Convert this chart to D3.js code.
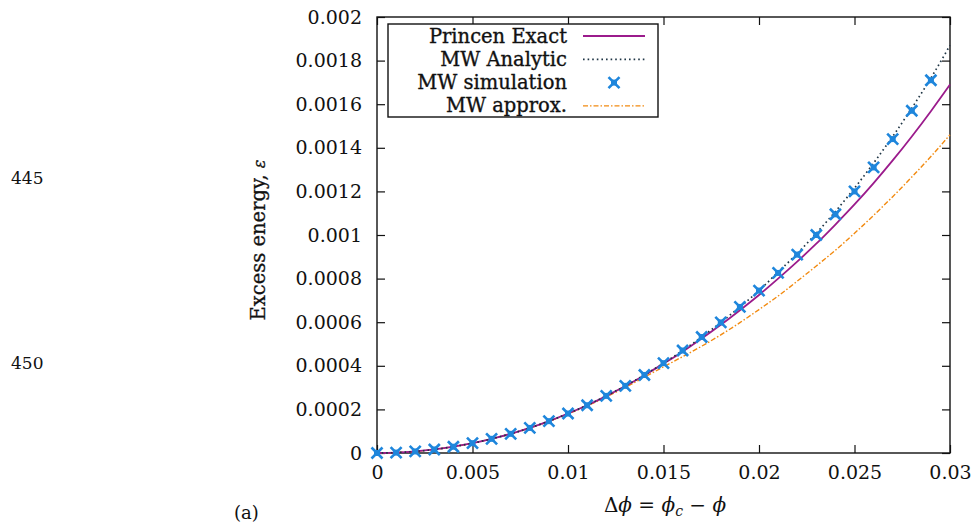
<!DOCTYPE html>
<html>
<head>
<meta charset="utf-8">
<script src="https://cdn.jsdelivr.net/npm/d3@7"></script>
<style>
  body { margin: 0; background: #fff; }
  svg text { font-family: "DejaVu Serif", "Liberation Serif", serif; fill: #111; }
</style>
</head>
<body>
<svg id="chart"></svg>
<script>
// x values (delta phi), one every 0.001
const dphi = [0, 0.001, 0.002, 0.003, 0.004, 0.005, 0.006, 0.007, 0.008, 0.009,
  0.010, 0.011, 0.012, 0.013, 0.014, 0.015, 0.016, 0.017, 0.018, 0.019,
  0.020, 0.021, 0.022, 0.023, 0.024, 0.025, 0.026, 0.027, 0.028, 0.029, 0.030];

// series
const princenExact = [0, 0.0000018, 0.0000072, 0.0000162, 0.0000288, 0.000045, 0.000065, 0.000088, 0.000115, 0.000146,
  0.000181, 0.000219, 0.000261, 0.000307, 0.000357, 0.000410, 0.000465, 0.000525, 0.000588, 0.000655,
  0.000725, 0.000800, 0.000878, 0.000960, 0.001048, 0.001140, 0.001238, 0.001342, 0.001452, 0.001568, 0.001690];
const mwAnalytic = [0, 0.0000018, 0.0000072, 0.0000162, 0.0000288, 0.000045, 0.000065, 0.000088, 0.000115, 0.000146,
  0.000181, 0.000219, 0.000262, 0.000308, 0.000358, 0.000412, 0.000470, 0.000532, 0.000599, 0.000670,
  0.000745, 0.000830, 0.000915, 0.001008, 0.001108, 0.001215, 0.001330, 0.001452, 0.001582, 0.001720, 0.001870];
const mwSimulation = [0, 0.0000018, 0.0000072, 0.0000162, 0.0000288, 0.000045, 0.000065, 0.000088, 0.000115, 0.000146,
  0.000181, 0.000219, 0.000262, 0.000308, 0.000358, 0.000412, 0.000470, 0.000532, 0.000599, 0.000670,
  0.000745, 0.000826, 0.000910, 0.001000, 0.001095, 0.001200, 0.001310, 0.001440, 0.001570, 0.001710];
const mwApprox = [0, 0.0000018, 0.0000072, 0.0000162, 0.0000288, 0.000045, 0.000065, 0.000088, 0.000115, 0.000145,
  0.000179, 0.000216, 0.000257, 0.000301, 0.000348, 0.000395, 0.000442, 0.000490, 0.000542, 0.000598,
  0.000658, 0.000720, 0.000788, 0.000858, 0.000930, 0.001008, 0.001090, 0.001176, 0.001266, 0.001360, 0.001460];

const xTicks = [0, 0.005, 0.01, 0.015, 0.02, 0.025, 0.03];
const yTicks = [0, 0.0002, 0.0004, 0.0006, 0.0008, 0.001, 0.0012, 0.0014, 0.0016, 0.0018, 0.002];

const width = 976, height = 525;
const plotLeft = 377, plotRight = 950, plotTop = 17, plotBottom = 453;

const svg = d3.select("#chart").attr("width", width).attr("height", height);

const x = d3.scaleLinear().domain([0, 0.03]).range([plotLeft, plotRight]);
const y = d3.scaleLinear().domain([0, 0.002]).range([plotBottom, plotTop]);

// inward ticks on all four sides, gnuplot style
const tickLen = 8;
svg.append("g").attr("transform", `translate(0,${plotBottom})`)
  .call(d3.axisBottom(x).tickValues(xTicks).tickSize(-tickLen).tickPadding(13).tickFormat(d => d3.format("~g")(d)));
svg.append("g").attr("transform", `translate(0,${plotTop})`)
  .call(d3.axisTop(x).tickValues(xTicks).tickSize(-tickLen).tickFormat(""));
svg.append("g").attr("transform", `translate(${plotLeft},0)`)
  .call(d3.axisLeft(y).tickValues(yTicks).tickSize(-tickLen).tickPadding(15).tickFormat(d => d === 0 ? "0" : d3.format("~g")(d)));
svg.append("g").attr("transform", `translate(${plotRight},0)`)
  .call(d3.axisRight(y).tickValues(yTicks).tickSize(-tickLen).tickFormat(""));

svg.selectAll(".domain").remove();
svg.selectAll(".tick line").attr("stroke", "#111").attr("stroke-width", 1.2);
svg.selectAll(".tick text").attr("font-size", "19px").attr("font-family", "DejaVu Serif").attr("fill", "#111");

// frame
svg.append("rect")
  .attr("x", plotLeft).attr("y", plotTop)
  .attr("width", plotRight - plotLeft).attr("height", plotBottom - plotTop)
  .attr("fill", "none").attr("stroke", "#111").attr("stroke-width", 1.4);

const line = d3.line().curve(d3.curveMonotoneX).x(d => x(d[0])).y(d => y(d[1]));
const plot = svg.append("g");

plot.append("path")
  .datum(dphi.map((d, i) => [d, mwApprox[i]]))
  .attr("d", line).attr("fill", "none")
  .attr("stroke", "#f28a10").attr("stroke-width", 1.4)
  .attr("stroke-dasharray", "5,2,1.5,2");

plot.append("path")
  .datum(dphi.map((d, i) => [d, princenExact[i]]))
  .attr("d", line).attr("fill", "none")
  .attr("stroke", "#9b1b8c").attr("stroke-width", 1.8);

plot.append("path")
  .datum(dphi.map((d, i) => [d, mwAnalytic[i]]))
  .attr("d", line).attr("fill", "none")
  .attr("stroke", "#1f3545").attr("stroke-width", 1.7)
  .attr("stroke-dasharray", "1.6,3");

// simulation markers: an x with a filled centre
function marker(g, cx, cy) {
  const s = 5.5;
  g.append("path")
    .attr("d", `M${cx - s},${cy - s}L${cx + s},${cy + s}M${cx - s},${cy + s}L${cx + s},${cy - s}`)
    .attr("stroke", "#1e86dc").attr("stroke-width", 2.6);
  g.append("rect")
    .attr("x", cx - 3).attr("y", cy - 3).attr("width", 6).attr("height", 6)
    .attr("fill", "#1e86dc");
}
const simG = plot.append("g");
mwSimulation.forEach((v, i) => marker(simG, x(dphi[i]), y(v)));

// legend
const legend = svg.append("g");
legend.append("rect")
  .attr("x", 388).attr("y", 24).attr("width", 270).attr("height", 93)
  .attr("fill", "#fff").attr("stroke", "#111").attr("stroke-width", 1.4);

const legendNames = ["Princen Exact", "MW Analytic", "MW simulation", "MW approx."];
legendNames.forEach((name, i) => {
  const cy = 36 + i * 23.3;
  legend.append("text")
    .attr("x", 567).attr("y", cy + 6.5)
    .attr("text-anchor", "end").attr("font-size", "19.5px")
    .attr("stroke", "#111").attr("stroke-width", 0.35)
    .text(name);
  if (i === 0) {
    legend.append("line").attr("x1", 583).attr("x2", 645).attr("y1", cy).attr("y2", cy)
      .attr("stroke", "#9b1b8c").attr("stroke-width", 1.8);
  } else if (i === 1) {
    legend.append("line").attr("x1", 583).attr("x2", 645).attr("y1", cy).attr("y2", cy)
      .attr("stroke", "#1f3545").attr("stroke-width", 1.7).attr("stroke-dasharray", "1.6,3");
  } else if (i === 2) {
    marker(legend, 614, cy);
  } else {
    legend.append("line").attr("x1", 583).attr("x2", 645).attr("y1", cy).attr("y2", cy)
      .attr("stroke", "#f28a10").attr("stroke-width", 1.4).attr("stroke-dasharray", "5,2,1.5,2");
  }
});

// axis titles
svg.append("text")
  .attr("transform", "translate(265,240) rotate(-90)")
  .attr("text-anchor", "middle").attr("font-size", "19.5px")
  .attr("stroke", "#111").attr("stroke-width", 0.3)
  .html('Excess energy, <tspan font-style="italic" font-size="16px">ε</tspan>');

const xl = svg.append("text")
  .attr("x", 665).attr("y", 512)
  .attr("text-anchor", "middle").attr("font-size", "20px");
xl.append("tspan").text("Δ");
xl.append("tspan").attr("font-style", "italic").text("ϕ");
xl.append("tspan").text(" = ");
xl.append("tspan").attr("font-style", "italic").text("ϕ");
xl.append("tspan").attr("font-style", "italic").attr("font-size", "14px").attr("dy", 4).text("c");
xl.append("tspan").attr("dy", -4).text(" − ");
xl.append("tspan").attr("font-style", "italic").text("ϕ");

// page furniture from the scanned paper
svg.append("text").attr("x", 11).attr("y", 184).attr("font-size", "17px").attr("fill", "#333").text("445");
svg.append("text").attr("x", 11).attr("y", 369).attr("font-size", "17px").attr("fill", "#333").text("450");
svg.append("text").attr("x", 234).attr("y", 519).attr("font-size", "18px").text("(a)");
</script>
</body>
</html>
